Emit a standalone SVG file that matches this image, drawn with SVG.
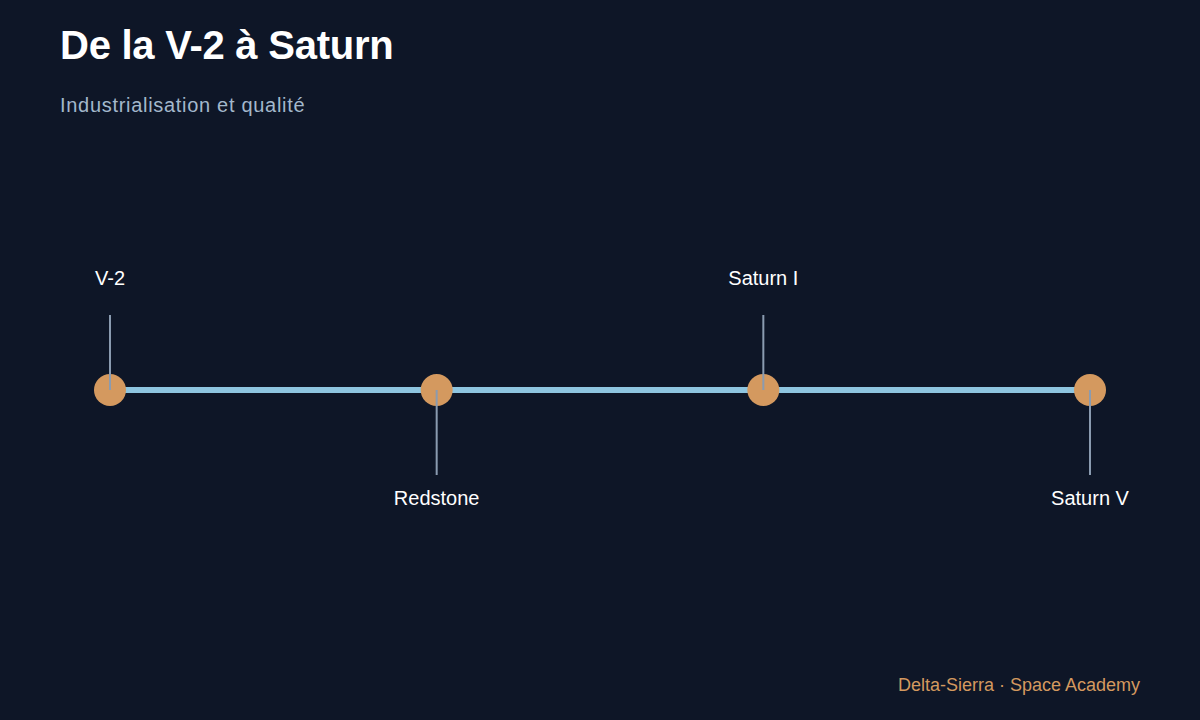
<svg xmlns="http://www.w3.org/2000/svg" width="1200" height="720" viewBox="0 0 1200 720">
<style>
.bg{fill:#0e1627}
.title{font-family:"Liberation Sans",Arial,sans-serif;font-size:40px;font-weight:bold;fill:#ffffff;letter-spacing:-0.25px}
.sub{font-family:"Liberation Sans",Arial,sans-serif;font-size:20px;fill:#a3b8cc;letter-spacing:0.7px}
.lbl{font-family:"Liberation Sans",Arial,sans-serif;font-size:20px;fill:#ffffff;text-anchor:middle}
.foot{font-family:"Liberation Sans",Arial,sans-serif;font-size:18px;fill:#d4995f;text-anchor:end}
.dot{fill:#d4995f}
.stem{stroke:#8a9bb0;stroke-width:2}
.axis{stroke:#8ec5e0;stroke-width:6}
</style>
<rect class="bg" x="0" y="0" width="1200" height="720"/>
<text class="title" x="60" y="59">De la V-2 à Saturn</text>
<text class="sub" x="60" y="112">Industrialisation et qualité</text>
<g id="connectors">
<line class="axis" x1="110" y1="390" x2="1090" y2="390"/>
</g>
<g id="node-v2">
<circle class="dot" cx="110" cy="390" r="16"/>
<line class="stem" x1="110" y1="315" x2="110" y2="390"/>
<text class="lbl" x="110" y="285">V-2</text>
</g>
<g id="node-redstone">
<circle class="dot" cx="436.67" cy="390" r="16"/>
<line class="stem" x1="436.67" y1="390" x2="436.67" y2="475"/>
<text class="lbl" x="436.67" y="505">Redstone</text>
</g>
<g id="node-saturn1">
<circle class="dot" cx="763.33" cy="390" r="16"/>
<line class="stem" x1="763.33" y1="315" x2="763.33" y2="390"/>
<text class="lbl" x="763.33" y="285">Saturn I</text>
</g>
<g id="node-saturn5">
<circle class="dot" cx="1090" cy="390" r="16"/>
<line class="stem" x1="1090" y1="390" x2="1090" y2="475"/>
<text class="lbl" x="1090" y="505">Saturn V</text>
</g>
<text class="foot" x="1140" y="691">Delta-Sierra · Space Academy</text>
</svg>
